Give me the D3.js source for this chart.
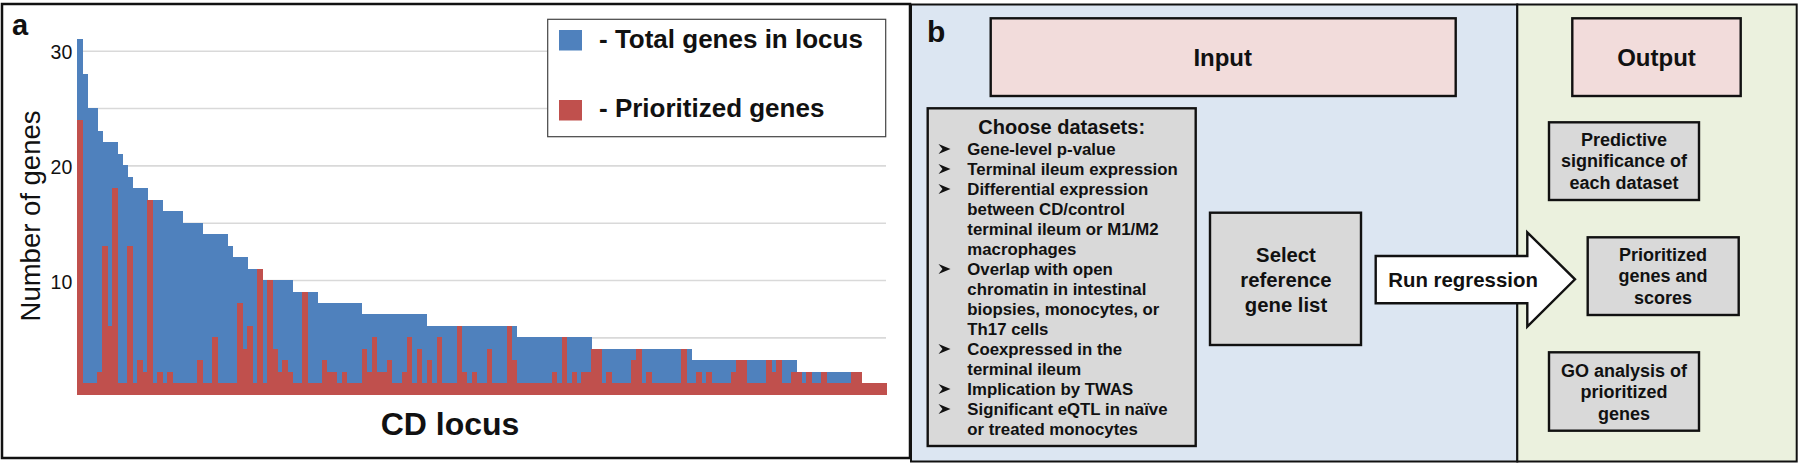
<!DOCTYPE html>
<html><head><meta charset="utf-8">
<script src="https://cdn.jsdelivr.net/npm/d3@7"></script>
<style>
body{margin:0;background:#fff}
svg{display:block}
text{font-family:"Liberation Sans",Arial,Helvetica,sans-serif;fill:#111}
</style>
</head><body>
<svg id="chart" width="1800" height="466"></svg>
<script>
// ---------- DATA (panel a) ----------
const totalGenes = [
 31,28,25,25,23,22,22,22,21,20,
 19,18,18,18,17,17,17,16,16,16,
 16,15,15,15,15,14,14,14,14,14,
 13,12,12,12,11,11,11,10,10,10,
 10,10,10,9,9,9,9,9,8,8,
 8,8,8,8,8,8,8,7,7,7,
 7,7,7,7,7,7,7,7,7,7,
 6,6,6,6,6,6,6,6,6,6,
 6,6,6,6,6,6,6,6,5,5,
 5,5,5,5,5,5,5,5,5,5,
 5,5,5,4,4,4,4,4,4,4,
 4,4,4,4,4,4,4,4,4,4,
 4,4,4,3,3,3,3,3,3,3,
 3,3,3,3,3,3,3,3,3,3,
 3,3,3,3,2,2,2,2,2,2,
 2,2,2,2,2,2,2,1,1,1,
 1,1
];
const prioritizedGenes = [
 24,1,1,1,2,13,6,18,1,1,
 13,1,3,2,17,1,2,1,2,1,
 1,1,1,1,3,1,1,5,1,1,
 1,1,8,4,6,1,11,1,10,4,
 2,3,2,1,1,9,1,1,1,3,
 2,2,1,2,1,1,1,4,2,5,
 2,2,3,1,1,2,5,1,4,1,
 3,1,5,1,1,1,6,2,1,2,
 1,1,4,1,1,1,6,3,1,1,
 1,1,1,1,1,2,1,5,1,2,
 1,2,2,4,4,1,2,1,1,1,
 1,3,4,1,2,1,1,1,1,1,
 1,4,1,1,2,1,2,1,1,1,
 1,2,3,3,1,1,1,1,3,2,
 3,1,1,2,2,1,2,1,1,2,
 1,1,1,1,1,2,2,1,1,1,
 1,1
];
const loci = totalGenes.map((d, i) => "locus " + (i + 1));
const yTickLabels = [10, 20, 30];
const gridValues = [5, 10, 15, 20, 25, 30];
const seriesNames = ["- Total genes in locus", "- Prioritized genes"];
const seriesColors = ["#4f81bd", "#c0504d"];

// ---------- DATA (panel b) ----------
const inputTitle = "Input";
const outputTitle = "Output";
const datasetsHeader = "Choose datasets:";
const datasetItems = [
 ["Gene-level p-value"],
 ["Terminal ileum expression"],
 ["Differential expression", "between CD/control", "terminal ileum or M1/M2", "macrophages"],
 ["Overlap with open", "chromatin in intestinal", "biopsies, monocytes, or", "Th17 cells"],
 ["Coexpressed in the", "terminal ileum"],
 ["Implication by TWAS"],
 ["Significant eQTL in naïve", "or treated monocytes"]
];
const selectLines = ["Select", "reference", "gene list"];
const arrowLabel = "Run regression";
const outputBoxes = [
 ["Predictive", "significance of", "each dataset"],
 ["Prioritized", "genes and", "scores"],
 ["GO analysis of", "prioritized", "genes"]
];

// ---------- DRAW ----------
const svg = d3.select("#chart");

// Panel a frame
svg.append("rect").attr("x", 2).attr("y", 4).attr("width", 908).attr("height", 454)
  .attr("fill", "#fff").attr("stroke", "#111").attr("stroke-width", 2.5);

const x0 = 77.3, x1 = 886, yBase = 394.7, yTop = 50.7;
const x = d3.scaleBand().domain(loci).range([x0, x1]).padding(0);
const y = d3.scaleLinear().domain([0, 30]).range([yBase, yTop]);

// gridlines
const grid = svg.append("g").attr("transform", `translate(${x0},0)`)
  .call(d3.axisLeft(y).tickValues(gridValues).tickSize(-(x1 - x0)).tickFormat(""));
grid.select(".domain").remove();
grid.selectAll("line").attr("stroke", "#d9d9d9").attr("stroke-width", 1.6);

// tick labels
const yAx = svg.append("g").attr("transform", `translate(${x0 - 5},0)`)
  .call(d3.axisLeft(y).tickValues(yTickLabels).tickSize(0).tickPadding(0));
yAx.select(".domain").remove();
yAx.selectAll("text").attr("font-size", 19.5).attr("font-weight", "normal")
  .attr("font-family", "Liberation Sans, Arial, sans-serif").attr("fill", "#111")
  .attr("dy", "0.42em");

// bars
const bw = x.bandwidth();
svg.append("g").attr("shape-rendering", "crispEdges").selectAll("rect").data(totalGenes).join("rect")
  .attr("x", (d, i) => x(loci[i])).attr("width", bw + 0.6)
  .attr("y", d => y(d)).attr("height", d => y(0) - y(d))
  .attr("fill", seriesColors[0]);
svg.append("g").attr("shape-rendering", "crispEdges").selectAll("rect").data(prioritizedGenes).join("rect")
  .attr("x", (d, i) => x(loci[i])).attr("width", bw + 0.6)
  .attr("y", d => y(d)).attr("height", d => y(0) - y(d))
  .attr("fill", seriesColors[1]);

// axis titles
svg.append("text").attr("transform", "translate(40,216) rotate(-90)")
  .attr("text-anchor", "middle").attr("font-size", 27.5).text("Number of genes");
svg.append("text").attr("x", 450).attr("y", 435).attr("text-anchor", "middle")
  .attr("font-size", 32).attr("font-weight", "bold").text("CD locus");
svg.append("text").attr("x", 12).attr("y", 35).attr("font-size", 29)
  .attr("font-weight", "bold").text("a");

// legend
const lg = svg.append("g");
lg.append("rect").attr("x", 547.7).attr("y", 19.3).attr("width", 338).attr("height", 117.4)
  .attr("fill", "#fff").attr("stroke", "#444").attr("stroke-width", 1.2);
const legY = [30, 100], legBase = [48.3, 117.3];
seriesNames.forEach((s, i) => {
  lg.append("rect").attr("x", 559).attr("y", legY[i]).attr("width", 23).attr("height", 20.5)
    .attr("fill", seriesColors[i]);
  lg.append("text").attr("x", 599).attr("y", legBase[i]).attr("font-size", 26)
    .attr("font-weight", "bold").text(s);
});

// ---------- Panel b ----------
const pb = svg.append("g");
pb.append("rect").attr("x", 911).attr("y", 4.5).attr("width", 606.3).attr("height", 457)
  .attr("fill", "#dce6f2").attr("stroke", "#111").attr("stroke-width", 2);
pb.append("rect").attr("x", 1517.3).attr("y", 4.5).attr("width", 279.4).attr("height", 457)
  .attr("fill", "#ebf1de").attr("stroke", "#111").attr("stroke-width", 2);
pb.append("text").attr("x", 927).attr("y", 41.7).attr("font-size", 30)
  .attr("font-weight", "bold").text("b");

function box(x, y, w, h, fill) {
  pb.append("rect").attr("x", x).attr("y", y).attr("width", w).attr("height", h)
    .attr("fill", fill).attr("stroke", "#111").attr("stroke-width", 2.4);
}
function lines(arr, cx, y0, dy, size) {
  arr.forEach((t, i) => pb.append("text").attr("x", cx).attr("y", y0 + i * dy)
    .attr("text-anchor", "middle").attr("font-size", size).attr("font-weight", "bold").text(t));
}

// Input / Output headers
box(990.7, 18.3, 465, 77.7, "#f2dcdb");
lines([inputTitle], 1222.7, 66, 0, 24);
box(1572.3, 18.3, 168.4, 77.7, "#f2dcdb");
lines([outputTitle], 1656.5, 66, 0, 24);

// datasets box
box(927.7, 108.3, 268, 337.7, "#d9d9d9");
lines([datasetsHeader], 1061.7, 134, 0, 20);
let row = 0;
const bulletShape = d3.line()([[0,-5],[12,0],[0,5],[4,0]]) + "Z";
datasetItems.forEach(item => {
  pb.append("path").attr("d", bulletShape)
    .attr("transform", `translate(938.5,${155 - 6 + row * 20})`)
    .attr("fill", "#111");
  item.forEach(t => {
    pb.append("text").attr("x", 967.3).attr("y", 155 + row * 20)
      .attr("font-size", 16.8).attr("font-weight", "bold").text(t);
    row++;
  });
});

// select box
box(1210, 212.7, 151, 132.3, "#d9d9d9");
lines(selectLines, 1286, 261.7, 25, 20.3);

// arrow
const arrowPts = [[1375.7,256],[1527.3,256],[1527.3,232.3],[1575,279.3],[1527.3,326.7],[1527.3,303.3],[1375.7,303.3]];
pb.append("path").attr("d", d3.line()(arrowPts) + "Z")
  .attr("fill", "#fff").attr("stroke", "#111").attr("stroke-width", 2.4).attr("stroke-linejoin", "miter");
pb.append("text").attr("x", 1388.3).attr("y", 286.7).attr("font-size", 20.4)
  .attr("font-weight", "bold").text(arrowLabel);

// output boxes
const outPos = [
  {x: 1549, y: 122.3, w: 150, h: 77.7, cx: 1624, b: 145.7},
  {x: 1587.7, y: 237.3, w: 151, h: 77.7, cx: 1663, b: 260.7},
  {x: 1549, y: 352.3, w: 150, h: 78.4, cx: 1624, b: 376.7}
];
outputBoxes.forEach((ls, i) => {
  const p = outPos[i];
  box(p.x, p.y, p.w, p.h, "#d9d9d9");
  lines(ls, p.cx, p.b, 21.7, 18);
});
</script>
</body></html>
